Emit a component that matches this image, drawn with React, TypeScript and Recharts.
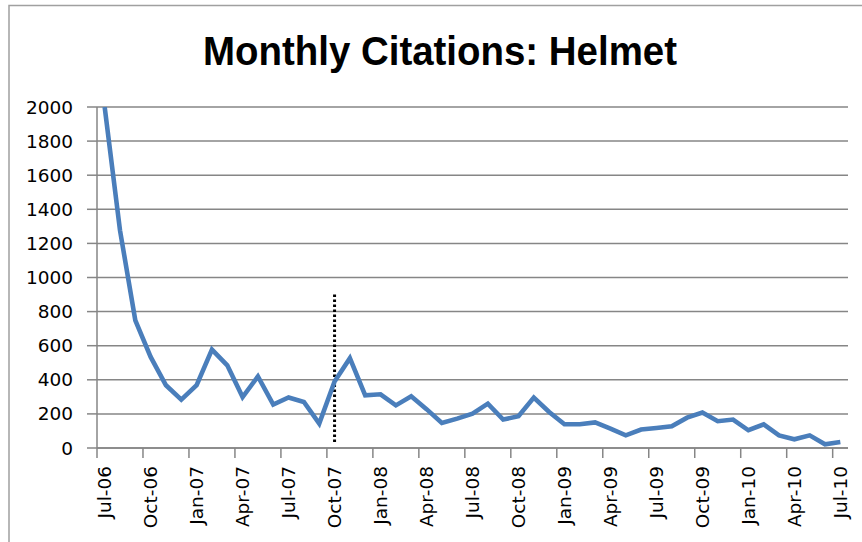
import { CartesianGrid, Line, LineChart, ReferenceLine, XAxis, YAxis } from "recharts"

const months = [
    "Jul-06", "Aug-06", "Sep-06", "Oct-06", "Nov-06", "Dec-06",
    "Jan-07", "Feb-07", "Mar-07", "Apr-07", "May-07", "Jun-07",
    "Jul-07", "Aug-07", "Sep-07", "Oct-07", "Nov-07", "Dec-07",
    "Jan-08", "Feb-08", "Mar-08", "Apr-08", "May-08", "Jun-08",
    "Jul-08", "Aug-08", "Sep-08", "Oct-08", "Nov-08", "Dec-08",
    "Jan-09", "Feb-09", "Mar-09", "Apr-09", "May-09", "Jun-09",
    "Jul-09", "Aug-09", "Sep-09", "Oct-09", "Nov-09", "Dec-09",
    "Jan-10", "Feb-10", "Mar-10", "Apr-10", "May-10", "Jun-10",
    "Jul-10",
]

const citations = [
    2000, 1277, 749, 534, 368, 284, 368, 577, 485, 299, 420, 255,
    296, 270, 143, 390, 527, 309, 315, 250, 303, 228, 147, 172,
    202, 260, 167, 186, 296, 211, 139, 139, 150, 114, 74, 108,
    117, 127, 178, 208, 157, 167, 104, 139, 74, 51, 74, 22,
    35,
]

const yTicks = [0, 200, 400, 600, 800, 1000, 1200, 1400, 1600, 1800, 2000]

// dotted marker drawn at Oct-07
const markerMonth = "Oct-07"
const markerRange = [35, 900]

const data = months.map((month, i) => ({ month, citations: citations[i] }))

const W = 862
const H = 542
const PLOT_LEFT = 97
const PLOT_RIGHT = 848
const PLOT_TOP = 107
const PLOT_BOTTOM = 448
const HALF = (PLOT_RIGHT - PLOT_LEFT) / months.length / 2

const axisFont = "'DejaVu Sans', Verdana, sans-serif"
const gray = "#868686"

function MonthTick(props: any) {
    const { x, y, payload } = props
    const ty = y + 18
    return (
        <g>
            <line x1={x - HALF} y1={y} x2={x - HALF} y2={y + 10} stroke={gray} strokeWidth={1.5} />
            <text
                x={x}
                y={ty}
                transform={`rotate(-90, ${x}, ${ty})`}
                textAnchor="end"
                dominantBaseline="central"
                fontFamily={axisFont}
                fontSize={18.5}
                fill="#000"
            >
                {payload.value}
            </text>
        </g>
    )
}

export default function App() {
    return (
        <div style={{ position: "absolute", left: 0, top: 0, width: W, height: H, overflow: "hidden", background: "#fff" }}>
            <LineChart
                width={W}
                height={H}
                data={data}
                margin={{ top: PLOT_TOP, right: W - PLOT_RIGHT, left: 0, bottom: 0 }}
            >
                <CartesianGrid vertical={false} stroke={gray} strokeWidth={1.5} />
                <XAxis
                    dataKey="month"
                    interval={2}
                    height={H - PLOT_BOTTOM}
                    padding={{ left: HALF, right: HALF }}
                    tickLine={false}
                    tickSize={0}
                    tickMargin={0}
                    axisLine={{ stroke: gray, strokeWidth: 1.5 }}
                    tick={<MonthTick />}
                />
                <YAxis
                    width={PLOT_LEFT}
                    domain={[0, 2000]}
                    ticks={yTicks}
                    allowDataOverflow
                    tickSize={10}
                    tickMargin={14}
                    tickLine={{ stroke: gray, strokeWidth: 1.5 }}
                    axisLine={{ stroke: gray, strokeWidth: 1.5 }}
                    tick={{ fill: "#000", fontSize: 18.5, fontFamily: axisFont }}
                />
                <ReferenceLine
                    segment={[
                        { x: markerMonth, y: markerRange[0] },
                        { x: markerMonth, y: markerRange[1] },
                    ]}
                    stroke="#000"
                    strokeWidth={3}
                    strokeDasharray="2.6 2.4"
                />
                <Line
                    type="linear"
                    dataKey="citations"
                    stroke="#4A7EBB"
                    strokeWidth={4.6}
                    dot={false}
                    activeDot={false}
                    isAnimationActive={false}
                />
            </LineChart>
            <svg width={W} height={H} style={{ position: "absolute", left: 0, top: 0, pointerEvents: "none" }}>
                <rect x={9} y={5.5} width={W + 20} height={H + 20} fill="none" stroke="#a0a0a0" strokeWidth={1.5} />
                <text
                    x={440}
                    y={65}
                    textAnchor="middle"
                    fontFamily="'Liberation Sans Narrow', 'Liberation Sans', Arial, sans-serif"
                    fontWeight="bold"
                    fontSize={40}
                    textLength={474}
                    lengthAdjust="spacingAndGlyphs"
                    fill="#000"
                >
                    Monthly Citations: Helmet
                </text>
            </svg>
        </div>
    )
}
